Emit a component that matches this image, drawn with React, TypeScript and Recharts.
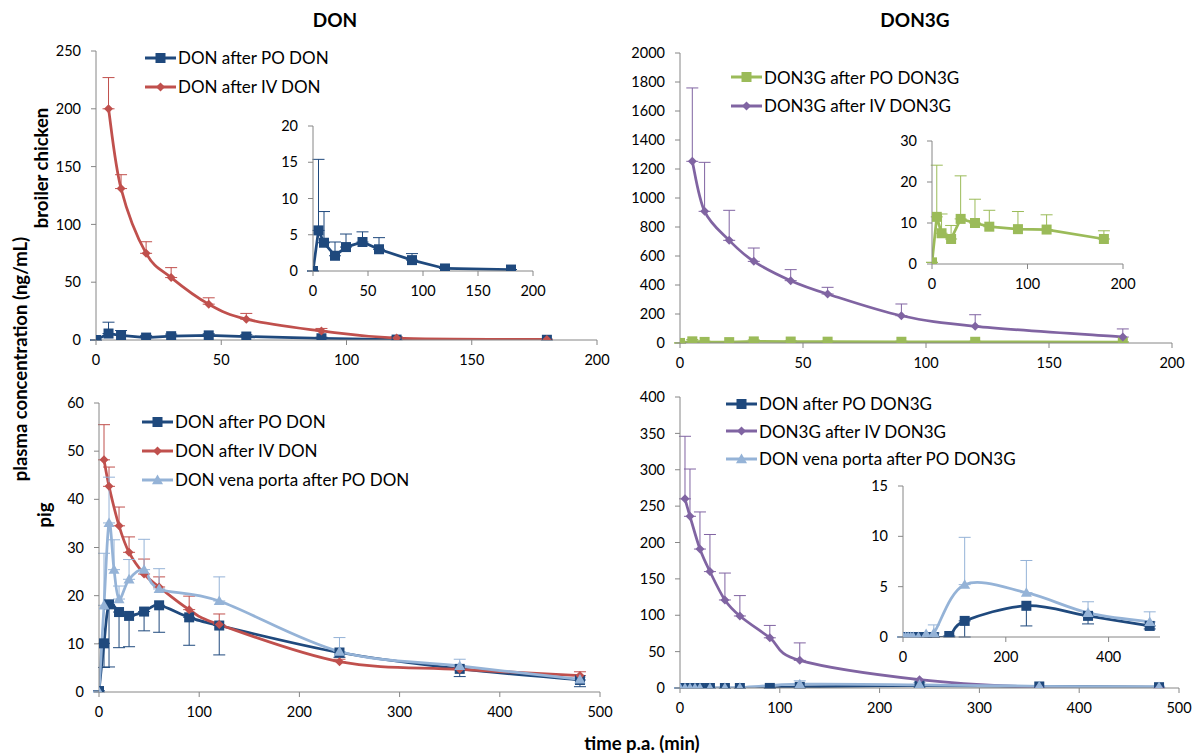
import React from "react";
import { LineChart, Line, XAxis, YAxis, ErrorBar, Legend } from "recharts";

const FONT = "Lato, 'Open Sans', sans-serif";
const DARK = "#1F497D";
const RED = "#C0504D";
const GREEN = "#9BBB59";
const PURPLE = "#8064A2";
const LIGHT = "#95B3D7";
const AXIS = "#868686";

// broiler chicken, sampling times (min)
const chickPoT = [0, 5, 10, 20, 30, 45, 60, 90, 120, 180];
const chickIvT = [5, 10, 20, 30, 45, 60, 90, 120, 180];
// DON
const chickPoDon = [0, 5.6, 3.9, 2.1, 3.3, 4.0, 3.0, 1.5, 0.35, 0.2];
const chickPoDonSd = [0, 9.8, 4.3, 1.9, 1.8, 1.4, 1.6, 0.9, 0, 0];
const chickIvDon = [200, 131, 75, 54, 31, 18, 7.8, 1.7, 0.5];
const chickIvDonSd = [27, 12, 10, 8.6, 5.5, 5, 2.2, 1.2, 0.3];
// DON3G
const chickPoDon3g = [0.4, 11.5, 7.5, 6.1, 11.0, 10.0, 9.1, 8.5, 8.4, 6.1];
const chickPoDon3gSd = [0, 12.6, 4.7, 3.3, 10.5, 5.8, 4.0, 4.3, 3.6, 2.0];
const chickIvDon3g = [1253, 908, 708, 563, 430, 338, 188, 115, 41];
const chickIvDon3gSd = [506, 338, 207, 92, 76, 46, 81, 80, 56];

// pig, sampling times (min)
const pigPoT = [0, 5, 10, 20, 30, 45, 60, 90, 120, 240, 360, 480];
const pigIvT = [5, 10, 20, 30, 45, 60, 90, 120, 240, 360, 480];
const pigVpT = [0, 5, 10, 15, 20, 30, 45, 60, 120, 240, 360, 480];
// DON
const pigPoDon = [0.2, 10.1, 18.2, 16.6, 15.8, 16.7, 18.0, 15.5, 13.8, 8.2, 4.8, 2.5];
const pigPoDonSd = [0, 5, 13, 7.4, 6.4, 4, 5.6, 5.8, 6.1, 1, 1.6, 1.4];
const pigIvDon = [48.2, 42.7, 34.5, 29.0, 24.5, 21.8, 17.1, 14.0, 6.3, 4.7, 3.4];
const pigIvDonSd = [7.3, 4.0, 3.9, 3.2, 3.1, 2.1, 2.8, 2.2, 0.5, 0.4, 0.8];
const pigVpDon = [0, 18.0, 35.1, 25.4, 19.3, 23.4, 25.4, 21.4, 18.9, 8.4, 5.4, 2.6];
const pigVpDonSd = [0, 10.8, 9.5, 6.2, 2.7, 4.1, 6.3, 4.2, 5.0, 2.9, 1.4, 0.5];
// DON3G
const pigPoDon3g = [0, 0, 0, 0, 0, 0, 0, 0.1, 1.6, 3.1, 2.1, 1.1];
const pigPoDon3gSd = [0, 0, 0, 0, 0, 0, 0, 0.1, 1.6, 2.0, 0.8, 0.3];
const pigIvDon3g = [260, 236, 191, 160, 121, 99, 69, 38, 11.5, 1, 0.5];
const pigIvDon3gSd = [86, 65, 51, 51, 37, 28, 17, 24, 0, 0, 0];
const pigVpDon3g = [0, 0, 0, 0, 0, 0, 0.3, 0.4, 5.2, 4.4, 2.4, 1.5];
const pigVpDon3gSd = [0, 0, 0, 0, 0, 0, 0, 0.8, 4.7, 3.2, 1.1, 1.0];

const rows = (t: number[], v: number[], sd: number[], up: boolean) =>
  t.map((x, i) => ({ t: x, v: v[i], e: up ? [0, sd[i]] : [sd[i], 0] }));

// excel-like smoothed line (catmull-rom through the points)
function excelSmooth(context: any) {
  let pts: number[][] = [];
  return {
    areaStart() {},
    areaEnd() {},
    lineStart() {
      pts = [];
    },
    point(x: number, y: number) {
      pts.push([+x, +y]);
    },
    lineEnd() {
      const n = pts.length;
      if (!n) return;
      context.moveTo(pts[0][0], pts[0][1]);
      for (let i = 0; i < n - 1; i++) {
        const a = pts[Math.max(i - 1, 0)];
        const b = pts[i];
        const c = pts[i + 1];
        const d = pts[Math.min(i + 2, n - 1)];
        context.bezierCurveTo(
          b[0] + (c[0] - a[0]) / 6, b[1] + (c[1] - a[1]) / 6,
          c[0] - (d[0] - b[0]) / 6, c[1] - (d[1] - b[1]) / 6,
          c[0], c[1]
        );
      }
    },
  };
}

type Shape = "square" | "diamond" | "triangle";

function shapeEl(shape: Shape, cx: number, cy: number, s: number, color: string, key?: any) {
  const h = s / 2;
  if (shape === "square")
    return <rect key={key} x={cx - h} y={cy - h} width={s} height={s} fill={color} />;
  if (shape === "diamond")
    return <polygon key={key} points={`${cx},${cy - h} ${cx + h},${cy} ${cx},${cy + h} ${cx - h},${cy}`} fill={color} />;
  return <polygon key={key} points={`${cx},${cy - h} ${cx + h},${cy + h * 0.75} ${cx - h},${cy + h * 0.75}`} fill={color} />;
}

const dotFor = (shape: Shape, size: number, color: string) => (p: any) => {
  if (p.cx == null || p.cy == null) return <g key={p.index} />;
  return shapeEl(shape, p.cx, p.cy, size, color, p.index);
};

const MARK: Record<string, number> = { square: 10, diamond: 9, triangle: 11 };

function LegendBox({ payload, rowH, order }: any) {
  const items = [...(payload || [])].sort((a: any, b: any) => order.indexOf(a.value) - order.indexOf(b.value));
  return (
    <div style={{ fontFamily: FONT, fontSize: 17, color: "#000" }}>
      {items.map((e: any) => (
        <div key={e.value} style={{ display: "flex", alignItems: "center", height: rowH, whiteSpace: "nowrap" }}>
          <svg width={31} height={14} style={{ marginRight: 2 }}>
            <line x1={0} y1={7} x2={31} y2={7} stroke={e.color} strokeWidth={3} />
            {shapeEl(e.type, 15.5, 7, MARK[e.type] || 9, e.color)}
          </svg>
          <span>{e.value}</span>
        </div>
      ))}
    </div>
  );
}

interface Series {
  name: string;
  data: any[];
  color: string;
  shape: Shape;
  smooth: boolean;
}

function Panel({ plot, xDomain, xTicks, yDomain, yTicks, series, legend }: any) {
  const yw = 58, xh = 30, mt = 8, mr = 16;
  const left = Math.round(plot.x0) - yw;
  const top = Math.round(plot.y0) - mt;
  const width = Math.round(plot.x1) + mr - left;
  const height = Math.round(plot.y1) + xh - top;
  const tick = { fontSize: 14.5, fill: "#000", fontFamily: FONT };
  const order = series.map((s: Series) => s.name);
  return (
    <div style={{ position: "absolute", left, top }}>
      <LineChart width={width} height={height} margin={{ top: mt, right: mr, bottom: 0, left: 0 }}>
        <XAxis
          type="number"
          dataKey="t"
          domain={xDomain}
          ticks={xTicks}
          interval={0}
          height={xh}
          allowDataOverflow
          axisLine={{ stroke: AXIS }}
          tickLine={{ stroke: AXIS }}
          tickSize={5}
          tickMargin={10}
          tick={tick}
        />
        <YAxis
          type="number"
          domain={yDomain}
          ticks={yTicks}
          interval={0}
          width={yw}
          allowDataOverflow
          axisLine={{ stroke: AXIS }}
          tickLine={{ stroke: AXIS }}
          tickSize={5}
          tickMargin={10}
          tick={tick}
        />
        {series.map((s: Series) => (
          <Line
            key={s.name}
            name={s.name}
            data={s.data}
            dataKey="v"
            type={s.smooth ? (excelSmooth as any) : "linear"}
            stroke={s.color}
            strokeWidth={2.75}
            dot={dotFor(s.shape, MARK[s.shape], s.color)}
            activeDot={false}
            legendType={s.shape}
            isAnimationActive={false}
          >
            <ErrorBar dataKey="e" direction="y" width={6} stroke={s.color} strokeWidth={1} />
          </Line>
        ))}
        {legend && (
          <Legend
            layout="horizontal"
            verticalAlign="middle"
            align="center"
            wrapperStyle={{ left: legend.x - left, top: legend.y - top, width: "auto" }}
            content={(p: any) => <LegendBox payload={p.payload} rowH={legend.rowH} order={order} />}
          />
        )}
      </LineChart>
    </div>
  );
}

const label = (x: number, y: number, size: number, rotate = false): React.CSSProperties => ({
  position: "absolute",
  left: x,
  top: y,
  transform: `translate(-50%, -50%)${rotate ? " rotate(-90deg)" : ""}`,
  whiteSpace: "nowrap",
  fontFamily: FONT,
  fontWeight: 700,
  fontSize: size,
  color: "#000",
});

export default function App() {
  const tlMain: Series[] = [
    { name: "DON after PO DON", data: rows(chickPoT, chickPoDon, chickPoDonSd, true), color: DARK, shape: "square", smooth: false },
    { name: "DON after IV DON", data: rows(chickIvT, chickIvDon, chickIvDonSd, true), color: RED, shape: "diamond", smooth: true },
  ];
  const tlInset: Series[] = [tlMain[0]];
  const trMain: Series[] = [
    { name: "DON3G after PO DON3G", data: rows(chickPoT, chickPoDon3g, chickPoDon3gSd, true), color: GREEN, shape: "square", smooth: false },
    { name: "DON3G after IV DON3G", data: rows(chickIvT, chickIvDon3g, chickIvDon3gSd, true), color: PURPLE, shape: "diamond", smooth: true },
  ];
  const trInset: Series[] = [trMain[0]];
  const blMain: Series[] = [
    { name: "DON after PO DON", data: rows(pigPoT, pigPoDon, pigPoDonSd, false), color: DARK, shape: "square", smooth: true },
    { name: "DON after IV DON", data: rows(pigIvT, pigIvDon, pigIvDonSd, true), color: RED, shape: "diamond", smooth: true },
    { name: "DON vena porta after PO DON", data: rows(pigVpT, pigVpDon, pigVpDonSd, true), color: LIGHT, shape: "triangle", smooth: true },
  ];
  const brMain: Series[] = [
    { name: "DON after PO DON3G", data: rows(pigPoT, pigPoDon3g, pigPoDon3gSd, false), color: DARK, shape: "square", smooth: true },
    { name: "DON3G after IV DON3G", data: rows(pigIvT, pigIvDon3g, pigIvDon3gSd, true), color: PURPLE, shape: "diamond", smooth: true },
    { name: "DON vena porta after PO DON3G", data: rows(pigVpT, pigVpDon3g, pigVpDon3gSd, true), color: LIGHT, shape: "triangle", smooth: true },
  ];
  const brInset: Series[] = [brMain[0], brMain[2]];

  return (
    <div style={{ position: "absolute", left: 0, top: 0, width: 1202, height: 753, background: "#fff", overflow: "hidden" }}>
      <div style={label(335, 19, 19)}>DON</div>
      <div style={label(915, 19, 19)}>DON3G</div>
      <div style={label(20, 359, 18.5, true)}>plasma concentration (ng/mL)</div>
      <div style={label(41, 168, 18.5, true)}>broiler chicken</div>
      <div style={label(44, 515, 18.5, true)}>pig</div>
      <div style={label(642, 743, 18.5)}>time p.a. (min)</div>

      <Panel
        plot={{ x0: 96, x1: 597, y0: 51, y1: 340 }}
        xDomain={[0, 200]} xTicks={[0, 50, 100, 150, 200]}
        yDomain={[0, 250]} yTicks={[0, 50, 100, 150, 200, 250]}
        series={tlMain}
        legend={{ x: 145, y: 43, rowH: 29 }}
      />
      <Panel
        plot={{ x0: 313, x1: 533, y0: 126, y1: 271 }}
        xDomain={[0, 200]} xTicks={[0, 50, 100, 150, 200]}
        yDomain={[0, 20]} yTicks={[0, 5, 10, 15, 20]}
        series={tlInset}
      />
      <Panel
        plot={{ x0: 680, x1: 1172, y0: 53, y1: 343 }}
        xDomain={[0, 200]} xTicks={[0, 50, 100, 150, 200]}
        yDomain={[0, 2000]} yTicks={[0, 200, 400, 600, 800, 1000, 1200, 1400, 1600, 1800, 2000]}
        series={trMain}
        legend={{ x: 731, y: 63, rowH: 28.5 }}
      />
      <Panel
        plot={{ x0: 932, x1: 1123, y0: 141, y1: 264 }}
        xDomain={[0, 200]} xTicks={[0, 100, 200]}
        yDomain={[0, 30]} yTicks={[0, 10, 20, 30]}
        series={trInset}
      />
      <Panel
        plot={{ x0: 99, x1: 600, y0: 403, y1: 692 }}
        xDomain={[0, 500]} xTicks={[0, 100, 200, 300, 400, 500]}
        yDomain={[0, 60]} yTicks={[0, 10, 20, 30, 40, 50, 60]}
        series={blMain}
        legend={{ x: 142, y: 407, rowH: 29 }}
      />
      <Panel
        plot={{ x0: 680, x1: 1179, y0: 397, y1: 688 }}
        xDomain={[0, 500]} xTicks={[0, 100, 200, 300, 400, 500]}
        yDomain={[0, 400]} yTicks={[0, 50, 100, 150, 200, 250, 300, 350, 400]}
        series={brMain}
        legend={{ x: 726, y: 390, rowH: 27.5 }}
      />
      <Panel
        plot={{ x0: 903, x1: 1160, y0: 486, y1: 637 }}
        xDomain={[0, 500]} xTicks={[0, 200, 400]}
        yDomain={[0, 15]} yTicks={[0, 5, 10, 15]}
        series={brInset}
      />
    </div>
  );
}
